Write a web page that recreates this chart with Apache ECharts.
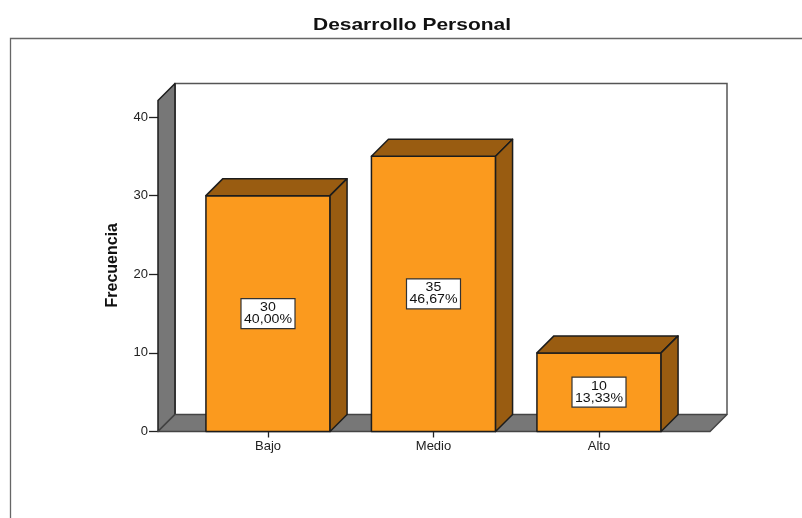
<!DOCTYPE html>
<html><head><meta charset="utf-8">
<style>html,body{margin:0;padding:0;background:#fff}#c{width:802px;height:518px}</style>
<script src="https://cdn.jsdelivr.net/npm/echarts@6/dist/echarts.min.js"></script>
</head><body><div id="c"></div>
<script>
const categories = ['Bajo', 'Medio', 'Alto'];
const counts = [30, 35, 10];
const percents = ['40,00%', '46,67%', '13,33%'];
const yTicksMax = 40;
const yWallTop = 42.1;

const DEPTH = 17, FRONT = '#FB9A1E', SHADE = '#995C11', WALL = '#777777', INK = '#1c1c1c';
const FONT = '"Liberation Sans", Arial, sans-serif';
const AXIS_GAP_L = 27.25, AXIS_GAP_R = 28.25;

function poly(points, fill, lineColor, w) {
  return { type: 'polygon', shape: { points }, style: { fill, stroke: lineColor || INK, lineWidth: w || 1.5, lineJoin: 'round' } };
}
function renderFrame(params, api) {
  const cs = params.coordSys;
  const l = cs.x - AXIS_GAP_L, r = cs.x + cs.width + AXIS_GAP_R;
  const y0 = api.coord([0, 0])[1], yt = api.coord([0, yWallTop])[1];
  return { type: 'group', children: [
    { type: 'polyline', shape: { points: [[l + DEPTH, y0 - DEPTH], [l + DEPTH, yt - DEPTH], [r + DEPTH, yt - DEPTH], [r + DEPTH, y0 - DEPTH]] },
      style: { fill: '#fff', stroke: '#555', lineWidth: 1.5 } },
    poly([[l, y0], [l + DEPTH, y0 - DEPTH], [l + DEPTH, yt - DEPTH], [l, yt]], WALL),
    poly([[l, y0], [l + DEPTH, y0 - DEPTH], [r + DEPTH, y0 - DEPTH], [r, y0]], WALL, '#444')
  ]};
}
function renderBar(params, api) {
  const i = api.value(0), v = api.value(1);
  const c = api.coord([i, v]), base = api.coord([i, 0]);
  const w = api.size([1, 0])[0] * 0.75;
  const a = c[0] - w / 2, b = c[0] + w / 2, t = c[1], y0 = base[1];
  const my = (t + y0) / 2;
  return { type: 'group', children: [
    poly([[a, y0], [b, y0], [b, t], [a, t]], FRONT),
    poly([[a, t], [a + DEPTH, t - DEPTH], [b + DEPTH, t - DEPTH], [b, t]], SHADE),
    poly([[b, y0], [b + DEPTH, y0 - DEPTH], [b + DEPTH, t - DEPTH], [b, t]], SHADE),
    { type: 'rect', shape: { x: c[0] - 27, y: my - 15, width: 54, height: 30 }, style: { fill: '#fff', stroke: '#333', lineWidth: 1.2 } },
    { type: 'text', x: c[0], y: my, scaleX: 1.18, style: { text: counts[i] + '\n' + percents[i], x: 0, y: 0, align: 'center', verticalAlign: 'middle',
        font: '12px ' + FONT, lineHeight: 12, fill: '#111' } }
  ]};
}
const chart = echarts.init(document.getElementById('c'), null, { renderer: 'canvas' });
chart.setOption({
  animation: false,
  backgroundColor: '#fff',
  graphic: [
    { type: 'polyline', silent: true, shape: { points: [[10.5, 518], [10.5, 38.5], [802, 38.5]] }, style: { fill: 'none', stroke: '#666', lineWidth: 1.3 } },
    { type: 'text', silent: true, x: 412, y: 25, scaleX: 1.27, style: { text: 'Desarrollo Personal', x: 0, y: 0, align: 'center', verticalAlign: 'middle', font: 'bold 16.5px ' + FONT, fill: '#111' } }
  ],
  grid: { left: 185.25, width: 496.5, top: 117, height: 314.5 },
  xAxis: { type: 'category', data: categories,
    axisLine: { show: false },
    axisTick: { show: true, alignWithLabel: true, length: 6, lineStyle: { color: '#222', width: 1.3 } },
    axisLabel: { margin: 8, fontFamily: FONT, fontSize: 13, color: '#222' } },
  yAxis: { type: 'value', min: 0, max: yTicksMax, interval: 10, offset: AXIS_GAP_L,
    name: 'Frecuencia', nameLocation: 'middle', nameGap: 37,
    nameTextStyle: { fontFamily: FONT, fontSize: 16, fontWeight: 'bold', color: '#111', padding: [0, 0, 0, 18] },
    splitLine: { show: false },
    axisLine: { show: false },
    axisTick: { show: true, length: 9, lineStyle: { color: '#222', width: 1.3 } },
    axisLabel: { margin: 10, fontFamily: FONT, fontSize: 13, color: '#222' } },
  series: [
    { type: 'custom', z: 1, clip: false, silent: true, renderItem: renderFrame, data: [[0, 0]], encode: { x: 0, y: 1 } },
    { type: 'custom', z: 3, clip: false, silent: true, renderItem: renderBar, data: counts.map((v, i) => [i, v]), encode: { x: 0, y: 1 } }
  ]
});
</script></body></html>
